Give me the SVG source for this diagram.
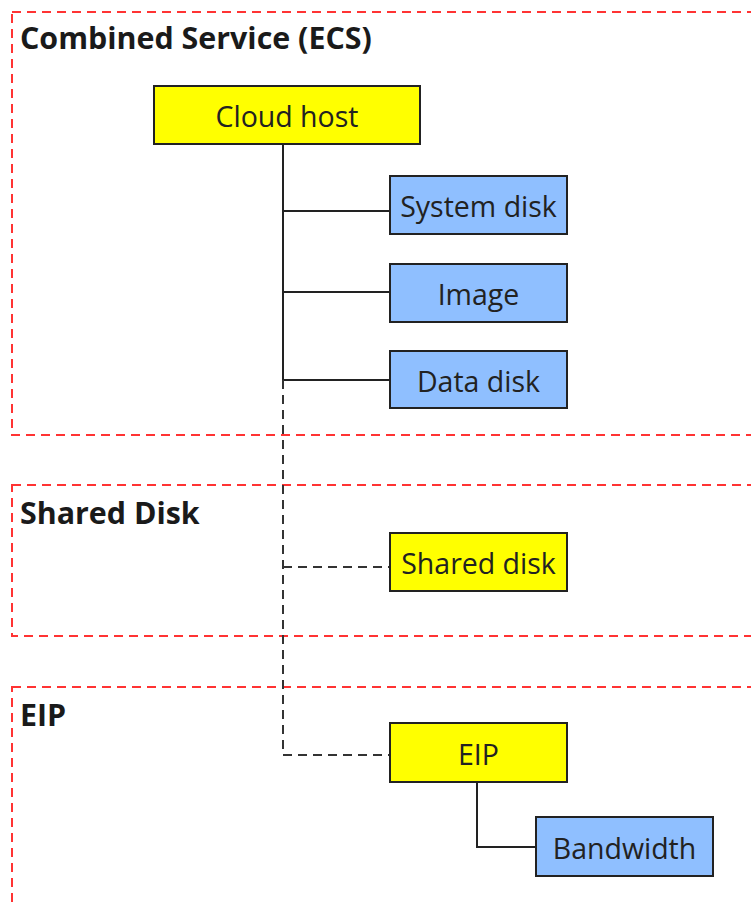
<svg xmlns="http://www.w3.org/2000/svg" width="751" height="902" viewBox="0 0 751 902">
<style>
.grp{fill:none;stroke:#ff3333;stroke-width:2;stroke-dasharray:9 6}
.title{font-family:"Open Sans","Noto Sans","DejaVu Sans",sans-serif;font-weight:bold;font-size:30.4px;fill:#1a1a1a}
.node rect{stroke:#222;stroke-width:2}
.y rect{fill:#ffff00}
.b rect{fill:#8fbfff}
.node text{font-family:"Open Sans","Noto Sans","DejaVu Sans",sans-serif;font-size:28.5px;fill:#222;text-anchor:middle;dominant-baseline:central}
.solid{fill:none;stroke:#222;stroke-width:2}
.dash{fill:none;stroke:#333;stroke-width:2;stroke-dasharray:9 6}
</style>
<rect width="751" height="902" fill="#fff"/>
<g id="group-ecs">
<rect class="grp" x="12" y="12" width="760" height="423"/>
<text class="title" x="20" y="49">Combined Service (ECS)</text>
</g>
<g id="group-shared">
<rect class="grp" x="12" y="485" width="760" height="151"/>
<text class="title" x="20" y="524">Shared Disk</text>
</g>
<g id="group-eip">
<rect class="grp" x="12" y="687" width="760" height="240"/>
<text class="title" x="20" y="726">EIP</text>
</g>
<g id="connectors">
<path class="solid" d="M283 144 V380 M283 211 H390 M283 292 H390 M283 380 H390"/>
<path class="dash" d="M283 380 V755 M283 567 H390 M283 755 H390"/>
<path class="solid" d="M477 782 V847 H536"/>
</g>
<g id="cloud-host" class="node y"><rect x="154" y="86" width="266" height="58"/><text x="287" y="116">Cloud host</text></g>
<g id="system-disk" class="node b"><rect x="390" y="176" width="177" height="58"/><text x="478.5" y="206">System disk</text></g>
<g id="image" class="node b"><rect x="390" y="264" width="177" height="58"/><text x="478.5" y="294">Image</text></g>
<g id="data-disk" class="node b"><rect x="390" y="351" width="177" height="57"/><text x="478.5" y="380.5">Data disk</text></g>
<g id="shared-disk" class="node y"><rect x="390" y="533" width="177" height="58"/><text x="478.5" y="563">Shared disk</text></g>
<g id="eip" class="node y"><rect x="390" y="723" width="177" height="59"/><text x="478.5" y="753.5">EIP</text></g>
<g id="bandwidth" class="node b"><rect x="536" y="817" width="177" height="59"/><text x="624.5" y="847.5">Bandwidth</text></g>
</svg>
